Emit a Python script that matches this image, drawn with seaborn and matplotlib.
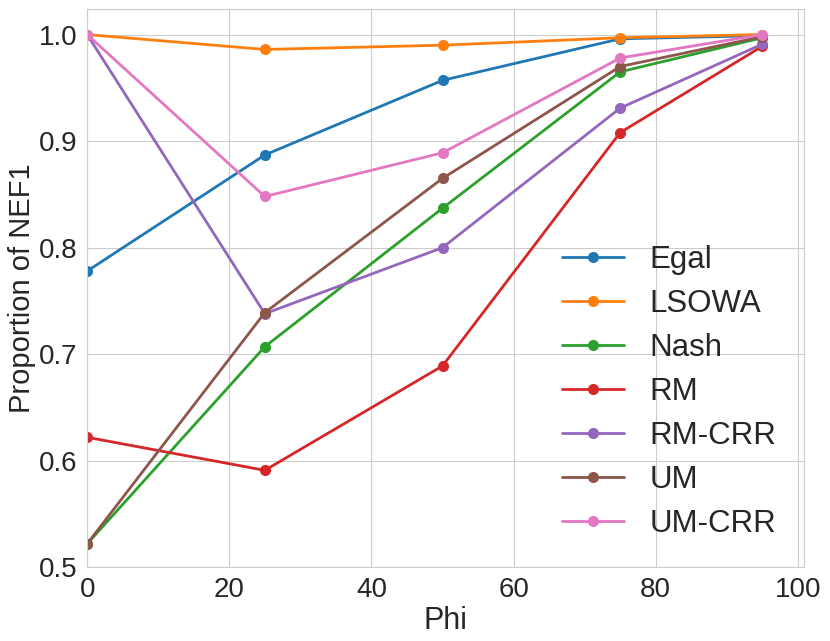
import pandas as pd
import numpy as np
import matplotlib
matplotlib.use("Agg")
import matplotlib.pyplot as plt
import seaborn as sns

### Données
phi = [0, 25, 50, 75, 95]
methods = ["Egal", "LSOWA", "Nash", "RM", "RM-CRR", "UM", "UM-CRR"]
egal = [0.778, 0.887, 0.957, 0.996, 0.999]
lsowa = [1.0, 0.986, 0.990, 0.997, 1.0]
nash = [0.522, 0.707, 0.837, 0.965, 0.997]
rm = [0.622, 0.591, 0.689, 0.908, 0.989]
rm_crr = [1.0, 0.738, 0.800, 0.931, 0.991]
um = [0.522, 0.739, 0.865, 0.970, 0.998]
um_crr = [1.0, 0.848, 0.889, 0.978, 1.0]

series = [egal, lsowa, nash, rm, rm_crr, um, um_crr]

### Figure
sns.set_style("whitegrid")
plt.rcParams["font.family"] = ["Liberation Sans", "DejaVu Sans"]
palette = sns.color_palette("tab10")

fig, ax = plt.subplots(figsize=(8.3, 6.41), dpi=100)
for i, (name, vals) in enumerate(zip(methods, series)):
    sns.lineplot(x=phi, y=vals, ax=ax, label=name, color=palette[i],
                 marker="o", markersize=8, markeredgewidth=0, linewidth=2)

ax.set_xlim(0, 100.9)
ax.set_ylim(0.5, 1.024)
ax.set_xlabel("Phi", fontsize=22, labelpad=2)
ax.set_ylabel("Proportion of NEF1", fontsize=21, labelpad=2)
ax.tick_params(labelsize=20)
ax.legend(loc="lower right", frameon=False, fontsize=22.5, labelspacing=0.45)

plt.subplots_adjust(left=0.105, right=0.969, top=0.986, bottom=0.115)
plt.savefig("out.png", dpi=100)
